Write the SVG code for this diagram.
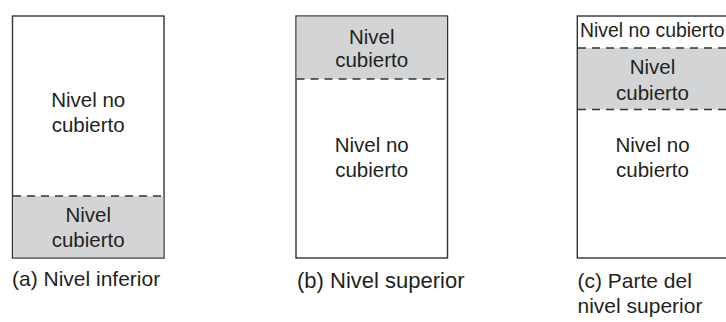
<svg xmlns="http://www.w3.org/2000/svg" width="726" height="322" viewBox="0 0 726 322">
<style>
.box{fill:#ffffff;stroke:#333333;stroke-width:1.4}
.cov{fill:#d3d4d6;stroke:none}
.dash{stroke:#333333;stroke-width:1.4;stroke-dasharray:8 6;fill:none}
text{font-family:"Liberation Sans",Arial,Helvetica,sans-serif;fill:#231f20}
.t{font-size:20.5px;text-anchor:middle}
.cap{font-size:21px}
</style>
<rect width="726" height="322" fill="#ffffff"/>
<g id="nodeA">
<rect class="box" x="12.5" y="16" width="151.5" height="242"/>
<rect class="cov" x="13.2" y="196" width="150.1" height="61.3"/>
<text class="t" x="88.2" y="106.7">Nivel no</text>
<text class="t" x="88.2" y="131.5">cubierto</text>
<text class="t" x="88.2" y="221.5">Nivel</text>
<text class="t" x="88.2" y="246.5">cubierto</text>
<text class="cap" x="12" y="286">(a) Nivel inferior</text>
</g>
<g id="nodeB">
<rect class="box" x="296" y="16" width="151.5" height="242"/>
<rect class="cov" x="296.7" y="16.7" width="150.1" height="62.3"/>
<text class="t" x="371.7" y="43.5">Nivel</text>
<text class="t" x="371.7" y="67">cubierto</text>
<text class="t" x="371.7" y="151.7">Nivel no</text>
<text class="t" x="371.7" y="176.7">cubierto</text>
<text class="cap" x="297" y="287.5" style="font-size:22px">(b) Nivel superior</text>
</g>
<g id="nodeC">
<rect class="box" x="577.3" y="16" width="151.5" height="242"/>
<rect class="cov" x="578" y="48" width="150" height="61.5"/>
<text x="580" y="36.7" style="font-size:19.4px">Nivel no cubierto</text>
<text class="t" x="652.5" y="74">Nivel</text>
<text class="t" x="652.5" y="99.5">cubierto</text>
<text class="t" x="652.5" y="151.7">Nivel no</text>
<text class="t" x="652.5" y="176.7">cubierto</text>
<text class="cap" x="577.5" y="288">(c) Parte del</text>
<text class="cap" x="577.5" y="313">nivel superior</text>
</g>
<g id="connectors">
<line class="dash" x1="13" y1="196" x2="164" y2="196"/>
<line class="dash" x1="296.5" y1="79" x2="447.5" y2="79"/>
<line class="dash" x1="578" y1="48" x2="728" y2="48"/>
<line class="dash" x1="578" y1="109.5" x2="728" y2="109.5"/>
</g>
</svg>
